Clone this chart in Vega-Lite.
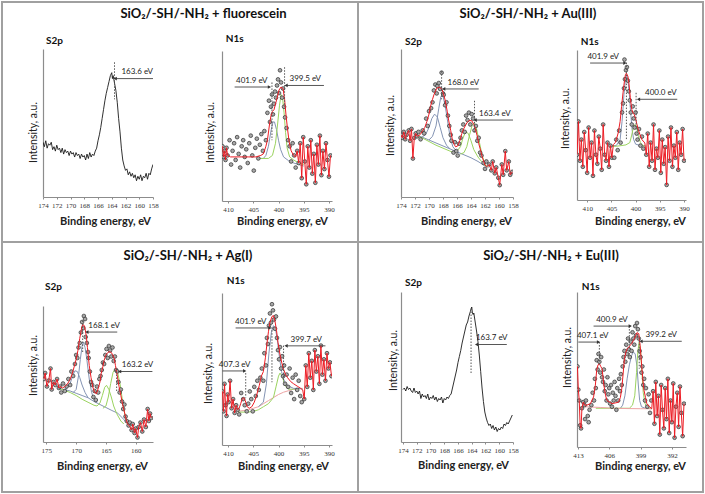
{
"$schema":"https://vega.github.io/schema/vega-lite/v6.json",
"padding":{"left":1,"top":1,"right":0,"bottom":0},
"background":"white",
"bounds":"flush",
"spacing":0,
"columns":13,
"config":{
 "view":{"stroke":null},
 "axis":{"grid":false,"domainColor":"#8c8c8c","domainWidth":1.2,"tickColor":"#8c8c8c","labelFont":"Liberation Serif","labelFontSize":7,"labelColor":"#333","titleFont":"Lato","titleColor":"#222"},
 "axisX":{"tickSize":2,"labelPadding":2,"labelFlush":false,"labelOverlap":false,"titleFontWeight":"bold","titleFontSize":11,"titleBaseline":"middle"},
 "axisY":{"labels":false,"ticks":false,"titleFontWeight":"normal","titleFontSize":10.5,"titleBaseline":"middle"},
 "title":{"font":"Lato","fontWeight":"bold","color":"#111","baseline":"alphabetic","fontSize":10}
},
"datasets":{
"p1":[
{"s":"raw","x":174,"y":37},{"s":"raw","x":173.8,"y":34},{"s":"raw","x":173.6,"y":38},{"s":"raw","x":173.4,"y":33},{"s":"raw","x":173.2,"y":36},{"s":"raw","x":173,"y":35},{"s":"raw","x":172.8,"y":37},{"s":"raw","x":172.6,"y":32},{"s":"raw","x":172.4,"y":34},{"s":"raw","x":172.2,"y":31},{"s":"raw","x":172,"y":35},{"s":"raw","x":171.8,"y":32},{"s":"raw","x":171.6,"y":33},{"s":"raw","x":171.4,"y":30},{"s":"raw","x":171.2,"y":33},{"s":"raw","x":171,"y":29},{"s":"raw","x":170.8,"y":32},{"s":"raw","x":170.6,"y":30},{"s":"raw","x":170.4,"y":31},{"s":"raw","x":170.2,"y":28},{"s":"raw","x":170,"y":31},{"s":"raw","x":169.8,"y":29},{"s":"raw","x":169.6,"y":30},{"s":"raw","x":169.4,"y":27},{"s":"raw","x":169.2,"y":30},{"s":"raw","x":169,"y":28},{"s":"raw","x":168.8,"y":29},{"s":"raw","x":168.6,"y":26},{"s":"raw","x":168.4,"y":29},{"s":"raw","x":168.2,"y":27},{"s":"raw","x":168,"y":28},{"s":"raw","x":167.8,"y":25},{"s":"raw","x":167.6,"y":29},{"s":"raw","x":167.4,"y":26},{"s":"raw","x":167.2,"y":30},{"s":"raw","x":167,"y":27},{"s":"raw","x":166.8,"y":29},{"s":"raw","x":166.6,"y":28},{"s":"raw","x":166.4,"y":31},{"s":"raw","x":166.2,"y":33},{"s":"raw","x":166,"y":38},{"s":"raw","x":165.8,"y":42},{"s":"raw","x":165.6,"y":47},{"s":"raw","x":165.4,"y":53},{"s":"raw","x":165.2,"y":59},{"s":"raw","x":165,"y":65},{"s":"raw","x":164.8,"y":70},{"s":"raw","x":164.6,"y":74},{"s":"raw","x":164.4,"y":78},{"s":"raw","x":164.2,"y":82},{"s":"raw","x":164,"y":84},{"s":"raw","x":163.9,"y":80},{"s":"raw","x":163.8,"y":82},{"s":"raw","x":163.6,"y":77},{"s":"raw","x":163.4,"y":72},{"s":"raw","x":163.2,"y":64},{"s":"raw","x":163,"y":53},{"s":"raw","x":162.8,"y":44},{"s":"raw","x":162.6,"y":33},{"s":"raw","x":162.4,"y":25},{"s":"raw","x":162.2,"y":21},{"s":"raw","x":162,"y":18},{"s":"raw","x":161.8,"y":19},{"s":"raw","x":161.6,"y":15},{"s":"raw","x":161.4,"y":17},{"s":"raw","x":161.2,"y":14},{"s":"raw","x":161,"y":16},{"s":"raw","x":160.8,"y":13},{"s":"raw","x":160.6,"y":15},{"s":"raw","x":160.4,"y":11},{"s":"raw","x":160.2,"y":14},{"s":"raw","x":160,"y":12},{"s":"raw","x":159.8,"y":15},{"s":"raw","x":159.6,"y":11},{"s":"raw","x":159.4,"y":14},{"s":"raw","x":159.2,"y":13},{"s":"raw","x":159,"y":16},{"s":"raw","x":158.8,"y":12},{"s":"raw","x":158.6,"y":16},{"s":"raw","x":158.4,"y":15},{"s":"raw","x":158.2,"y":19},{"s":"raw","x":158,"y":22},
{"s":"v","x":163.6,"y":91,"y2":66},{"s":"h","x":163.5,"x2":158,"y":80,"d":"l"},{"s":"t","x":160.3,"y":81.5,"label":"163.6 eV"}
],
"p2":[
{"s":"pt","x":411.1,"y":36},{"s":"pt","x":410.9,"y":29},{"s":"pt","x":410.7,"y":33},{"s":"pt","x":410.5,"y":27},{"s":"pt","x":410.3,"y":35},{"s":"pt","x":410.1,"y":30},
{"s":"pt","x":409.7,"y":40},{"s":"pt","x":409.4,"y":24},{"s":"pt","x":409.1,"y":33},{"s":"pt","x":408.8,"y":38},{"s":"pt","x":408.5,"y":27},{"s":"pt","x":408.2,"y":42},{"s":"pt","x":407.9,"y":31},{"s":"pt","x":407.6,"y":22},{"s":"pt","x":407.3,"y":36},{"s":"pt","x":407,"y":40},{"s":"pt","x":406.7,"y":29},{"s":"pt","x":406.4,"y":34},{"s":"pt","x":406.1,"y":25},{"s":"pt","x":405.8,"y":38},{"s":"pt","x":405.5,"y":43},{"s":"pt","x":405.2,"y":30},{"s":"pt","x":404.9,"y":20},{"s":"pt","x":404.6,"y":35},{"s":"pt","x":404.3,"y":41},{"s":"pt","x":404,"y":28},{"s":"pt","x":403.7,"y":37},{"s":"pt","x":403.4,"y":44},{"s":"pt","x":403.1,"y":33},{"s":"pt","x":402.8,"y":46},{"s":"pt","x":402.5,"y":40},{"s":"pt","x":402.2,"y":58},{"s":"pt","x":401.9,"y":66},{"s":"pt","x":401.7,"y":52},{"s":"pt","x":401.5,"y":62},{"s":"pt","x":401.3,"y":70},{"s":"pt","x":401.1,"y":57},{"s":"pt","x":400.9,"y":64},{"s":"pt","x":400.7,"y":72},{"s":"pt","x":400.5,"y":68},{"s":"pt","x":400.3,"y":76},{"s":"pt","x":400.1,"y":80},{"s":"pt","x":399.9,"y":71},{"s":"pt","x":399.7,"y":86},{"s":"pt","x":399.5,"y":78},{"s":"pt","x":399.3,"y":68},{"s":"pt","x":399.1,"y":74},{"s":"pt","x":398.9,"y":62},{"s":"pt","x":398.7,"y":55},{"s":"pt","x":398.4,"y":48},{"s":"pt","x":398.1,"y":40},{"s":"pt","x":397.8,"y":36},{"s":"pt","x":397.5,"y":26},{"s":"pt","x":397.2,"y":38},{"s":"pt","x":396.9,"y":30},{"s":"pt","x":396.6,"y":22},
{"s":"pt","x":396.3,"y":33},{"s":"pt","x":396,"y":25},{"s":"pt","x":395.7,"y":38},{"s":"pt","x":395.4,"y":15},{"s":"pt","x":395.1,"y":42},{"s":"pt","x":394.8,"y":26},{"s":"pt","x":394.5,"y":11},{"s":"pt","x":394.2,"y":36},{"s":"pt","x":393.9,"y":22},{"s":"pt","x":393.6,"y":40},{"s":"pt","x":393.3,"y":18},{"s":"pt","x":393,"y":31},{"s":"pt","x":392.7,"y":12},{"s":"pt","x":392.4,"y":37},{"s":"pt","x":392.1,"y":24},{"s":"pt","x":391.8,"y":43},{"s":"pt","x":391.5,"y":17},{"s":"pt","x":391.2,"y":33},{"s":"pt","x":390.9,"y":21},{"s":"pt","x":390.6,"y":38},{"s":"pt","x":390.3,"y":27},{"s":"pt","x":390,"y":16},{"s":"pt","x":389.7,"y":30},
{"s":"fit","x":411.1,"y":36},{"s":"fit","x":410.9,"y":29},{"s":"fit","x":410.7,"y":33},{"s":"fit","x":410.5,"y":27},{"s":"fit","x":410.3,"y":35},{"s":"fit","x":410.1,"y":30},
{"s":"fit","x":409.5,"y":29},{"s":"fit","x":408,"y":29},{"s":"fit","x":406,"y":29},{"s":"fit","x":404.5,"y":29},{"s":"fit","x":403.5,"y":30},{"s":"fit","x":403,"y":31},{"s":"fit","x":402.5,"y":36},{"s":"fit","x":402.2,"y":40},{"s":"fit","x":401.8,"y":50},{"s":"fit","x":401.5,"y":56},{"s":"fit","x":401.2,"y":59},{"s":"fit","x":400.9,"y":60},{"s":"fit","x":400.5,"y":65},{"s":"fit","x":400.2,"y":69},{"s":"fit","x":399.9,"y":73},{"s":"fit","x":399.5,"y":75},{"s":"fit","x":399.1,"y":74},{"s":"fit","x":398.8,"y":67},{"s":"fit","x":398.5,"y":56},{"s":"fit","x":398.2,"y":47},{"s":"fit","x":397.9,"y":39},{"s":"fit","x":397.5,"y":33},{"s":"fit","x":397,"y":30},{"s":"fit","x":396.6,"y":29},
{"s":"fit","x":396.3,"y":33},{"s":"fit","x":396,"y":25},{"s":"fit","x":395.7,"y":38},{"s":"fit","x":395.4,"y":15},{"s":"fit","x":395.1,"y":42},{"s":"fit","x":394.8,"y":26},{"s":"fit","x":394.5,"y":11},{"s":"fit","x":394.2,"y":36},{"s":"fit","x":393.9,"y":22},{"s":"fit","x":393.6,"y":40},{"s":"fit","x":393.3,"y":18},{"s":"fit","x":393,"y":31},{"s":"fit","x":392.7,"y":12},{"s":"fit","x":392.4,"y":37},{"s":"fit","x":392.1,"y":24},{"s":"fit","x":391.8,"y":43},{"s":"fit","x":391.5,"y":17},{"s":"fit","x":391.2,"y":33},{"s":"fit","x":390.9,"y":21},{"s":"fit","x":390.6,"y":38},{"s":"fit","x":390.3,"y":27},{"s":"fit","x":390,"y":16},{"s":"fit","x":389.7,"y":30},
{"s":"b1","x":404,"y":28},{"s":"b1","x":403,"y":28},{"s":"b1","x":402.5,"y":30},{"s":"b1","x":402,"y":36},{"s":"b1","x":401.5,"y":46},{"s":"b1","x":401.1,"y":52},{"s":"b1","x":400.8,"y":52},{"s":"b1","x":400.4,"y":47},{"s":"b1","x":400,"y":40},{"s":"b1","x":399.6,"y":34},{"s":"b1","x":399,"y":29},{"s":"b1","x":398,"y":26.5},{"s":"b1","x":397,"y":25},{"s":"b1","x":396,"y":24},{"s":"b1","x":395,"y":23},
{"s":"g1","x":404,"y":28},{"s":"g1","x":402,"y":28},{"s":"g1","x":401.2,"y":30},{"s":"g1","x":400.6,"y":38},{"s":"g1","x":400.2,"y":50},{"s":"g1","x":399.8,"y":63},{"s":"g1","x":399.5,"y":70},{"s":"g1","x":399.2,"y":68},{"s":"g1","x":398.9,"y":58},{"s":"g1","x":398.6,"y":45},{"s":"g1","x":398.3,"y":35},{"s":"g1","x":397.8,"y":29},{"s":"g1","x":397,"y":27},{"s":"g1","x":396,"y":25},{"s":"g1","x":395,"y":24},
{"s":"v","x":401.3,"y":78,"y2":40},{"s":"v","x":398.8,"y":88,"y2":62},{"s":"h","x":401.8,"x2":408.7,"y":75,"d":"r"},{"s":"h","x":398.5,"x2":391,"y":76,"d":"l"},{"s":"t","x":405.3,"y":76.5,"label":"401.9 eV"},{"s":"t","x":394.7,"y":77.5,"label":"399.5 eV"}
],
"p3":[
{"s":"pt","x":174,"y":42},{"s":"pt","x":173.8,"y":40},{"s":"pt","x":173.6,"y":44},{"s":"pt","x":173.4,"y":39},{"s":"pt","x":173.2,"y":42},{"s":"pt","x":172.9,"y":45},{"s":"pt","x":172.7,"y":38},{"s":"pt","x":172.5,"y":46},{"s":"pt","x":172.3,"y":26},{"s":"pt","x":172.1,"y":40},{"s":"pt","x":171.9,"y":43},{"s":"pt","x":171.7,"y":41},
{"s":"pt","x":171.5,"y":44},{"s":"pt","x":171.2,"y":39},{"s":"pt","x":170.9,"y":45},{"s":"pt","x":170.7,"y":43},{"s":"pt","x":170.4,"y":53},{"s":"pt","x":170.2,"y":48},{"s":"pt","x":170,"y":58},{"s":"pt","x":169.7,"y":60},{"s":"pt","x":169.5,"y":64},{"s":"pt","x":169.3,"y":72},{"s":"pt","x":169.1,"y":76},{"s":"pt","x":168.9,"y":70},{"s":"pt","x":168.8,"y":75},{"s":"pt","x":168.6,"y":77},{"s":"pt","x":168.4,"y":73},{"s":"pt","x":168.2,"y":84},{"s":"pt","x":168,"y":70},{"s":"pt","x":167.9,"y":69},{"s":"pt","x":167.7,"y":62},{"s":"pt","x":167.5,"y":64},{"s":"pt","x":167.3,"y":55},{"s":"pt","x":167.1,"y":48},{"s":"pt","x":166.9,"y":42},{"s":"pt","x":166.8,"y":38},{"s":"pt","x":166.5,"y":30},{"s":"pt","x":166.3,"y":37},{"s":"pt","x":166.1,"y":31},{"s":"pt","x":165.9,"y":28},{"s":"pt","x":165.7,"y":36},{"s":"pt","x":165.5,"y":40},{"s":"pt","x":165.3,"y":45},{"s":"pt","x":165.1,"y":49},{"s":"pt","x":164.9,"y":44},{"s":"pt","x":164.7,"y":55},{"s":"pt","x":164.5,"y":52},{"s":"pt","x":164.3,"y":57},{"s":"pt","x":164.1,"y":49},{"s":"pt","x":163.9,"y":56},{"s":"pt","x":163.7,"y":53},{"s":"pt","x":163.5,"y":45},{"s":"pt","x":163.3,"y":48},{"s":"pt","x":163.1,"y":38},{"s":"pt","x":162.9,"y":40},{"s":"pt","x":162.7,"y":30},{"s":"pt","x":162.5,"y":28},{"s":"pt","x":162.2,"y":23},{"s":"pt","x":162,"y":19},{"s":"pt","x":161.8,"y":24},
{"s":"pt","x":161.4,"y":22},{"s":"pt","x":161.1,"y":18},{"s":"pt","x":160.9,"y":24},{"s":"pt","x":160.6,"y":16},{"s":"pt","x":160.4,"y":20},{"s":"pt","x":160.1,"y":13},{"s":"pt","x":159.9,"y":8},{"s":"pt","x":159.6,"y":22},{"s":"pt","x":159.4,"y":15},{"s":"pt","x":159.1,"y":31},{"s":"pt","x":158.9,"y":18},{"s":"pt","x":158.6,"y":24},{"s":"pt","x":158.4,"y":15},{"s":"pt","x":158.1,"y":17},
{"s":"fit","x":174,"y":42},{"s":"fit","x":173.8,"y":40},{"s":"fit","x":173.6,"y":44},{"s":"fit","x":173.4,"y":39},{"s":"fit","x":173.2,"y":42},{"s":"fit","x":172.9,"y":45},{"s":"fit","x":172.7,"y":38},{"s":"fit","x":172.5,"y":46},{"s":"fit","x":172.3,"y":26},{"s":"fit","x":172.1,"y":40},{"s":"fit","x":171.9,"y":43},{"s":"fit","x":171.7,"y":41},
{"s":"fit","x":171.3,"y":42},{"s":"fit","x":171,"y":44},{"s":"fit","x":170.6,"y":47},{"s":"fit","x":170.3,"y":51},{"s":"fit","x":170,"y":56},{"s":"fit","x":169.8,"y":61},{"s":"fit","x":169.5,"y":66},{"s":"fit","x":169.3,"y":69},{"s":"fit","x":168.9,"y":73.5},{"s":"fit","x":168.5,"y":74.2},{"s":"fit","x":168.1,"y":72.4},{"s":"fit","x":167.7,"y":65.6},{"s":"fit","x":167.4,"y":58},{"s":"fit","x":167.2,"y":52},{"s":"fit","x":166.9,"y":45},{"s":"fit","x":166.7,"y":39.6},{"s":"fit","x":166.4,"y":35.5},{"s":"fit","x":166.2,"y":33.9},{"s":"fit","x":165.9,"y":34.5},{"s":"fit","x":165.6,"y":38},{"s":"fit","x":165.3,"y":43},{"s":"fit","x":165,"y":46.5},{"s":"fit","x":164.6,"y":50},{"s":"fit","x":164.3,"y":51.6},{"s":"fit","x":163.9,"y":51.6},{"s":"fit","x":163.6,"y":49},{"s":"fit","x":163.4,"y":46.4},{"s":"fit","x":163.1,"y":41},{"s":"fit","x":162.9,"y":36.2},{"s":"fit","x":162.6,"y":31},{"s":"fit","x":162.4,"y":27.1},{"s":"fit","x":162,"y":21.5},{"s":"fit","x":161.7,"y":20.5},
{"s":"fit","x":161.4,"y":22},{"s":"fit","x":161.1,"y":18},{"s":"fit","x":160.9,"y":24},{"s":"fit","x":160.6,"y":16},{"s":"fit","x":160.4,"y":20},{"s":"fit","x":160.1,"y":13},{"s":"fit","x":159.9,"y":8},{"s":"fit","x":159.6,"y":22},{"s":"fit","x":159.4,"y":15},{"s":"fit","x":159.1,"y":31},{"s":"fit","x":158.9,"y":18},{"s":"fit","x":158.6,"y":24},{"s":"fit","x":158.4,"y":15},{"s":"fit","x":158.1,"y":17},
{"s":"b0","x":172,"y":42},{"s":"b0","x":171,"y":40.5},{"s":"b0","x":170,"y":38.5},{"s":"b0","x":169,"y":36.5},{"s":"b0","x":168,"y":34.5},{"s":"b0","x":167,"y":32.5},{"s":"b0","x":166,"y":30.5},{"s":"b0","x":165,"y":28.5},{"s":"b0","x":164,"y":26.5},{"s":"b0","x":163,"y":24},{"s":"b0","x":162,"y":21},{"s":"b0","x":161.5,"y":20},
{"s":"b1","x":171,"y":40.5},{"s":"b1","x":170.5,"y":42},{"s":"b1","x":170,"y":47},{"s":"b1","x":169.6,"y":53},{"s":"b1","x":169.2,"y":56},{"s":"b1","x":168.8,"y":54},{"s":"b1","x":168.4,"y":47},{"s":"b1","x":168,"y":40},{"s":"b1","x":167.5,"y":35},{"s":"b1","x":167,"y":32.5},
{"s":"b2","x":170,"y":38.5},{"s":"b2","x":169.5,"y":41},{"s":"b2","x":169,"y":48},{"s":"b2","x":168.6,"y":60},{"s":"b2","x":168.3,"y":68},{"s":"b2","x":168,"y":68},{"s":"b2","x":167.7,"y":62},{"s":"b2","x":167.3,"y":50},{"s":"b2","x":167,"y":41},{"s":"b2","x":166.6,"y":34},{"s":"b2","x":166,"y":30.5},
{"s":"g0","x":172,"y":42},{"s":"g0","x":171,"y":40},{"s":"g0","x":170,"y":37.5},{"s":"g0","x":169,"y":35},{"s":"g0","x":168,"y":33},{"s":"g0","x":167,"y":31},{"s":"g0","x":166.5,"y":30},
{"s":"g1","x":166.5,"y":30},{"s":"g1","x":166,"y":31},{"s":"g1","x":165.5,"y":34},{"s":"g1","x":165.2,"y":39},{"s":"g1","x":164.8,"y":44},{"s":"g1","x":164.4,"y":43},{"s":"g1","x":164,"y":38},{"s":"g1","x":163.6,"y":32},{"s":"g1","x":163,"y":27},{"s":"g1","x":162.5,"y":24},{"s":"g1","x":162,"y":21},
{"s":"g2","x":165.5,"y":29},{"s":"g2","x":165,"y":30},{"s":"g2","x":164.6,"y":34},{"s":"g2","x":164.2,"y":42},{"s":"g2","x":163.8,"y":49},{"s":"g2","x":163.5,"y":50},{"s":"g2","x":163.2,"y":46},{"s":"g2","x":162.8,"y":37},{"s":"g2","x":162.4,"y":28},{"s":"g2","x":162,"y":22},{"s":"g2","x":161.6,"y":20},
{"s":"v","x":168.2,"y":85,"y2":66},{"s":"v","x":163.5,"y":65,"y2":44},{"s":"h","x":167.9,"x2":162.9,"y":73,"d":"l"},{"s":"h","x":163.4,"x2":158,"y":52,"d":"l"},{"s":"t","x":165.1,"y":74.5,"label":"168.0 eV"},{"s":"t","x":160.6,"y":53.5,"label":"163.4 eV"}
],
"p4":[
{"s":"pt","x":412.1,"y":30},{"s":"pt","x":411.8,"y":52},{"s":"pt","x":411.5,"y":26},{"s":"pt","x":411.2,"y":40},{"s":"pt","x":410.9,"y":22},{"s":"pt","x":410.6,"y":45},{"s":"pt","x":410.3,"y":33},{"s":"pt","x":410,"y":18},{"s":"pt","x":409.7,"y":48},{"s":"pt","x":409.4,"y":28},{"s":"pt","x":409.1,"y":38},{"s":"pt","x":408.8,"y":16},{"s":"pt","x":408.5,"y":46},{"s":"pt","x":408.2,"y":30},{"s":"pt","x":407.9,"y":24},{"s":"pt","x":407.6,"y":42},{"s":"pt","x":407.3,"y":34},{"s":"pt","x":407,"y":20},{"s":"pt","x":406.7,"y":50},{"s":"pt","x":406.4,"y":30},{"s":"pt","x":406.1,"y":26},{"s":"pt","x":405.8,"y":38},{"s":"pt","x":405.5,"y":22},{"s":"pt","x":405.2,"y":36},{"s":"pt","x":404.9,"y":28},
{"s":"pt","x":404.4,"y":28},{"s":"pt","x":404,"y":40},{"s":"pt","x":403.7,"y":33},{"s":"pt","x":403.4,"y":46},{"s":"pt","x":403.1,"y":38},{"s":"pt","x":402.8,"y":58},{"s":"pt","x":402.6,"y":64},{"s":"pt","x":402.4,"y":74},{"s":"pt","x":402.3,"y":93},{"s":"pt","x":402.2,"y":80},{"s":"pt","x":402,"y":86},{"s":"pt","x":401.8,"y":88},{"s":"pt","x":401.6,"y":79},{"s":"pt","x":401.4,"y":72},{"s":"pt","x":401.2,"y":66},{"s":"pt","x":401,"y":58},{"s":"pt","x":400.8,"y":50},{"s":"pt","x":400.6,"y":62},{"s":"pt","x":400.4,"y":54},{"s":"pt","x":400.2,"y":48},{"s":"pt","x":400,"y":58},{"s":"pt","x":399.8,"y":44},{"s":"pt","x":399.6,"y":40},{"s":"pt","x":399.3,"y":47},{"s":"pt","x":399,"y":36},{"s":"pt","x":398.7,"y":42},{"s":"pt","x":398.4,"y":34},
{"s":"pt","x":397.8,"y":30},{"s":"pt","x":397.5,"y":44},{"s":"pt","x":397.2,"y":22},{"s":"pt","x":396.9,"y":38},{"s":"pt","x":396.6,"y":26},{"s":"pt","x":396.3,"y":50},{"s":"pt","x":396,"y":20},{"s":"pt","x":395.7,"y":34},{"s":"pt","x":395.4,"y":28},{"s":"pt","x":395.1,"y":46},{"s":"pt","x":394.8,"y":18},{"s":"pt","x":394.5,"y":40},{"s":"pt","x":394.2,"y":24},{"s":"pt","x":393.9,"y":35},{"s":"pt","x":393.6,"y":10},{"s":"pt","x":393.3,"y":42},{"s":"pt","x":393,"y":26},{"s":"pt","x":392.7,"y":48},{"s":"pt","x":392.4,"y":22},{"s":"pt","x":392.1,"y":36},{"s":"pt","x":391.8,"y":28},{"s":"pt","x":391.5,"y":45},{"s":"pt","x":391.2,"y":20},{"s":"pt","x":390.9,"y":38},{"s":"pt","x":390.6,"y":30},{"s":"pt","x":390.3,"y":47},{"s":"pt","x":390,"y":26},
{"s":"fit","x":412.1,"y":30},{"s":"fit","x":411.8,"y":52},{"s":"fit","x":411.5,"y":26},{"s":"fit","x":411.2,"y":40},{"s":"fit","x":410.9,"y":22},{"s":"fit","x":410.6,"y":45},{"s":"fit","x":410.3,"y":33},{"s":"fit","x":410,"y":18},{"s":"fit","x":409.7,"y":48},{"s":"fit","x":409.4,"y":28},{"s":"fit","x":409.1,"y":38},{"s":"fit","x":408.8,"y":16},{"s":"fit","x":408.5,"y":46},{"s":"fit","x":408.2,"y":30},{"s":"fit","x":407.9,"y":24},{"s":"fit","x":407.6,"y":42},{"s":"fit","x":407.3,"y":34},{"s":"fit","x":407,"y":20},{"s":"fit","x":406.7,"y":50},{"s":"fit","x":406.4,"y":30},{"s":"fit","x":406.1,"y":26},{"s":"fit","x":405.8,"y":38},{"s":"fit","x":405.5,"y":22},{"s":"fit","x":405.2,"y":36},{"s":"fit","x":404.9,"y":28},
{"s":"fit","x":404.6,"y":36.7},{"s":"fit","x":404.2,"y":38},{"s":"fit","x":403.9,"y":41},{"s":"fit","x":403.6,"y":44.4},{"s":"fit","x":403.2,"y":52},{"s":"fit","x":402.9,"y":62},{"s":"fit","x":402.6,"y":71},{"s":"fit","x":402.3,"y":79},{"s":"fit","x":402.1,"y":83},{"s":"fit","x":401.9,"y":84},{"s":"fit","x":401.6,"y":82},{"s":"fit","x":401.4,"y":78},{"s":"fit","x":401.1,"y":68},{"s":"fit","x":400.8,"y":60},{"s":"fit","x":400.5,"y":57.5},{"s":"fit","x":400.3,"y":56.7},{"s":"fit","x":400,"y":54},{"s":"fit","x":399.8,"y":51},{"s":"fit","x":399.4,"y":46},{"s":"fit","x":399.1,"y":43.3},{"s":"fit","x":398.7,"y":40},{"s":"fit","x":398.1,"y":37.8},
{"s":"fit","x":397.8,"y":30},{"s":"fit","x":397.5,"y":44},{"s":"fit","x":397.2,"y":22},{"s":"fit","x":396.9,"y":38},{"s":"fit","x":396.6,"y":26},{"s":"fit","x":396.3,"y":50},{"s":"fit","x":396,"y":20},{"s":"fit","x":395.7,"y":34},{"s":"fit","x":395.4,"y":28},{"s":"fit","x":395.1,"y":46},{"s":"fit","x":394.8,"y":18},{"s":"fit","x":394.5,"y":40},{"s":"fit","x":394.2,"y":24},{"s":"fit","x":393.9,"y":35},{"s":"fit","x":393.6,"y":10},{"s":"fit","x":393.3,"y":42},{"s":"fit","x":393,"y":26},{"s":"fit","x":392.7,"y":48},{"s":"fit","x":392.4,"y":22},{"s":"fit","x":392.1,"y":36},{"s":"fit","x":391.8,"y":28},{"s":"fit","x":391.5,"y":45},{"s":"fit","x":391.2,"y":20},{"s":"fit","x":390.9,"y":38},{"s":"fit","x":390.6,"y":30},{"s":"fit","x":390.3,"y":47},{"s":"fit","x":390,"y":26},
{"s":"b1","x":405,"y":36},{"s":"b1","x":404,"y":36},{"s":"b1","x":403.2,"y":40},{"s":"b1","x":402.8,"y":52},{"s":"b1","x":402.4,"y":70},{"s":"b1","x":402.1,"y":80},{"s":"b1","x":401.9,"y":83},{"s":"b1","x":401.6,"y":80},{"s":"b1","x":401.3,"y":70},{"s":"b1","x":401,"y":57},{"s":"b1","x":400.7,"y":46},{"s":"b1","x":400.4,"y":40},{"s":"b1","x":400,"y":37},{"s":"b1","x":399,"y":36},{"s":"b1","x":398,"y":36},
{"s":"g1","x":405,"y":35.6},{"s":"g1","x":404,"y":35.6},{"s":"g1","x":403,"y":36},{"s":"g1","x":402,"y":36.5},{"s":"g1","x":401.2,"y":38},{"s":"g1","x":400.8,"y":43},{"s":"g1","x":400.4,"y":49},{"s":"g1","x":400.1,"y":50},{"s":"g1","x":399.8,"y":48},{"s":"g1","x":399.4,"y":42},{"s":"g1","x":399,"y":38},{"s":"g1","x":398.5,"y":36},{"s":"g1","x":398,"y":35.6},
{"s":"v","x":401.9,"y":91,"y2":40},{"s":"v","x":399.9,"y":71,"y2":47},{"s":"h","x":402.2,"x2":409.4,"y":90.7,"d":"r"},{"s":"h","x":399.4,"x2":391.4,"y":66.7,"d":"l"},{"s":"t","x":406.7,"y":92.2,"label":"401.9 eV"},{"s":"t","x":394.8,"y":68.2,"label":"400.0 eV"}
],
"p5":[
{"s":"pt","x":175.4,"y":42},{"s":"pt","x":175.2,"y":46},{"s":"pt","x":174.9,"y":37},{"s":"pt","x":174.6,"y":41},{"s":"pt","x":174.3,"y":49},{"s":"pt","x":174.1,"y":35},{"s":"pt","x":173.8,"y":40},{"s":"pt","x":173.5,"y":38},{"s":"pt","x":173.2,"y":42},{"s":"pt","x":172.9,"y":36},{"s":"pt","x":172.7,"y":37},
{"s":"pt","x":172.5,"y":33},{"s":"pt","x":172.2,"y":39},{"s":"pt","x":171.9,"y":34},{"s":"pt","x":171.6,"y":37},{"s":"pt","x":171.3,"y":42},{"s":"pt","x":171,"y":38},{"s":"pt","x":170.8,"y":47},{"s":"pt","x":170.5,"y":44},{"s":"pt","x":170.2,"y":52},{"s":"pt","x":170,"y":58},{"s":"pt","x":169.8,"y":56},{"s":"pt","x":169.6,"y":63},{"s":"pt","x":169.4,"y":66},{"s":"pt","x":169.2,"y":73},{"s":"pt","x":169,"y":80},{"s":"pt","x":168.8,"y":76},{"s":"pt","x":168.7,"y":84},{"s":"pt","x":168.5,"y":82},{"s":"pt","x":168.4,"y":70},{"s":"pt","x":168.2,"y":66},{"s":"pt","x":168,"y":60},{"s":"pt","x":167.9,"y":56},{"s":"pt","x":167.7,"y":47},{"s":"pt","x":167.5,"y":40},{"s":"pt","x":167.3,"y":38},{"s":"pt","x":167.1,"y":30},{"s":"pt","x":166.9,"y":34},{"s":"pt","x":166.7,"y":28},{"s":"pt","x":166.5,"y":37},{"s":"pt","x":166.3,"y":33},{"s":"pt","x":166.1,"y":42},{"s":"pt","x":165.9,"y":44},{"s":"pt","x":165.7,"y":48},{"s":"pt","x":165.5,"y":53},{"s":"pt","x":165.3,"y":52},{"s":"pt","x":165.1,"y":58},{"s":"pt","x":164.9,"y":62},{"s":"pt","x":164.7,"y":56},{"s":"pt","x":164.5,"y":64},{"s":"pt","x":164.3,"y":61},{"s":"pt","x":164.1,"y":57},{"s":"pt","x":163.9,"y":63},{"s":"pt","x":163.7,"y":54},{"s":"pt","x":163.5,"y":57},{"s":"pt","x":163.3,"y":48},{"s":"pt","x":163.1,"y":47},{"s":"pt","x":162.9,"y":40},{"s":"pt","x":162.7,"y":33},{"s":"pt","x":162.5,"y":35},{"s":"pt","x":162.3,"y":27},{"s":"pt","x":162.1,"y":22},{"s":"pt","x":161.9,"y":25},{"s":"pt","x":161.7,"y":17},{"s":"pt","x":161.5,"y":14},{"s":"pt","x":161.2,"y":11},{"s":"pt","x":161,"y":13},
{"s":"pt","x":160.7,"y":8},{"s":"pt","x":160.5,"y":12},{"s":"pt","x":160.2,"y":6},{"s":"pt","x":160,"y":9},{"s":"pt","x":159.7,"y":3},{"s":"pt","x":159.5,"y":10},{"s":"pt","x":159.2,"y":13},{"s":"pt","x":158.9,"y":7},{"s":"pt","x":158.6,"y":15},{"s":"pt","x":158.3,"y":10},{"s":"pt","x":158,"y":22},{"s":"pt","x":157.8,"y":14},{"s":"pt","x":157.6,"y":19},{"s":"pt","x":157.4,"y":16},
{"s":"fit","x":175.4,"y":42},{"s":"fit","x":175.2,"y":46},{"s":"fit","x":174.9,"y":37},{"s":"fit","x":174.6,"y":41},{"s":"fit","x":174.3,"y":49},{"s":"fit","x":174.1,"y":35},{"s":"fit","x":173.8,"y":40},{"s":"fit","x":173.5,"y":38},{"s":"fit","x":173.2,"y":42},{"s":"fit","x":172.9,"y":36},{"s":"fit","x":172.7,"y":37},
{"s":"fit","x":172.3,"y":36},{"s":"fit","x":171.9,"y":37},{"s":"fit","x":171.5,"y":38.5},{"s":"fit","x":171.1,"y":41},{"s":"fit","x":170.7,"y":45},{"s":"fit","x":170.3,"y":50.5},{"s":"fit","x":170,"y":55},{"s":"fit","x":169.7,"y":61},{"s":"fit","x":169.4,"y":69},{"s":"fit","x":169.1,"y":75.5},{"s":"fit","x":168.9,"y":78.4},{"s":"fit","x":168.6,"y":77.5},{"s":"fit","x":168.3,"y":71},{"s":"fit","x":168.1,"y":63},{"s":"fit","x":167.8,"y":51},{"s":"fit","x":167.5,"y":43},{"s":"fit","x":167.2,"y":36.7},{"s":"fit","x":166.9,"y":33},{"s":"fit","x":166.6,"y":32.2},{"s":"fit","x":166.3,"y":35.6},{"s":"fit","x":166,"y":40},{"s":"fit","x":165.8,"y":45.6},{"s":"fit","x":165.5,"y":50.5},{"s":"fit","x":165.3,"y":54.4},{"s":"fit","x":165,"y":58},{"s":"fit","x":164.7,"y":59.6},{"s":"fit","x":164.4,"y":60.2},{"s":"fit","x":164.2,"y":60},{"s":"fit","x":163.9,"y":58.5},{"s":"fit","x":163.6,"y":55.6},{"s":"fit","x":163.4,"y":51},{"s":"fit","x":163.1,"y":44.4},{"s":"fit","x":162.8,"y":37},{"s":"fit","x":162.5,"y":31.1},{"s":"fit","x":162.2,"y":25},{"s":"fit","x":161.9,"y":20},{"s":"fit","x":161.6,"y":15},{"s":"fit","x":161.4,"y":12.2},{"s":"fit","x":161,"y":10.5},
{"s":"fit","x":160.7,"y":8},{"s":"fit","x":160.5,"y":12},{"s":"fit","x":160.2,"y":6},{"s":"fit","x":160,"y":9},{"s":"fit","x":159.7,"y":3},{"s":"fit","x":159.5,"y":10},{"s":"fit","x":159.2,"y":13},{"s":"fit","x":158.9,"y":7},{"s":"fit","x":158.6,"y":15},{"s":"fit","x":158.3,"y":10},{"s":"fit","x":158,"y":22},{"s":"fit","x":157.8,"y":14},{"s":"fit","x":157.6,"y":19},{"s":"fit","x":157.4,"y":16},
{"s":"b0","x":172.8,"y":35.6},{"s":"b0","x":172,"y":35},{"s":"b0","x":171,"y":34},{"s":"b0","x":170,"y":32.5},{"s":"b0","x":169,"y":31},{"s":"b0","x":168,"y":29.5},{"s":"b0","x":167,"y":27},{"s":"b0","x":166,"y":25},{"s":"b0","x":165,"y":23},{"s":"b0","x":164,"y":21},{"s":"b0","x":163,"y":19.2},{"s":"b0","x":162,"y":15},{"s":"b0","x":161,"y":11},
{"s":"b1","x":172,"y":35},{"s":"b1","x":171.5,"y":36},{"s":"b1","x":171,"y":39},{"s":"b1","x":170.6,"y":44},{"s":"b1","x":170.2,"y":47.5},{"s":"b1","x":169.8,"y":47},{"s":"b1","x":169.4,"y":43},{"s":"b1","x":169,"y":38},{"s":"b1","x":168.5,"y":33},{"s":"b1","x":168,"y":29.5},
{"s":"b2","x":170.5,"y":33},{"s":"b2","x":170,"y":35},{"s":"b2","x":169.6,"y":44},{"s":"b2","x":169.3,"y":55},{"s":"b2","x":169,"y":64},{"s":"b2","x":168.8,"y":66.7},{"s":"b2","x":168.5,"y":63},{"s":"b2","x":168.2,"y":55},{"s":"b2","x":167.8,"y":42},{"s":"b2","x":167.4,"y":33},{"s":"b2","x":167,"y":28.5},{"s":"b2","x":166.5,"y":26},
{"s":"g0","x":172.8,"y":35.6},{"s":"g0","x":172,"y":34.5},{"s":"g0","x":171,"y":33},{"s":"g0","x":170,"y":31},{"s":"g0","x":169,"y":28.5},{"s":"g0","x":168,"y":26.5},{"s":"g0","x":167,"y":24.5},
{"s":"g1","x":167,"y":24.5},{"s":"g1","x":166.5,"y":24},{"s":"g1","x":166,"y":26},{"s":"g1","x":165.6,"y":31},{"s":"g1","x":165.2,"y":36.5},{"s":"g1","x":164.9,"y":37.8},{"s":"g1","x":164.5,"y":35},{"s":"g1","x":164.1,"y":30},{"s":"g1","x":163.7,"y":24},{"s":"g1","x":163.2,"y":19},{"s":"g1","x":162.5,"y":14},{"s":"g1","x":162,"y":12},
{"s":"g2","x":165.5,"y":22.5},{"s":"g2","x":165,"y":24},{"s":"g2","x":164.6,"y":30},{"s":"g2","x":164.2,"y":39},{"s":"g2","x":163.8,"y":46.5},{"s":"g2","x":163.4,"y":48.9},{"s":"g2","x":163,"y":46},{"s":"g2","x":162.6,"y":38},{"s":"g2","x":162.2,"y":27},{"s":"g2","x":161.8,"y":18},{"s":"g2","x":161.3,"y":12},{"s":"g2","x":161,"y":10.5},
{"s":"v","x":168.9,"y":81,"y2":60},{"s":"v","x":163.2,"y":49,"y2":33},{"s":"h","x":168.2,"x2":163.1,"y":73.3,"d":"l"},{"s":"h","x":162.7,"x2":157.2,"y":47,"d":"l"},{"s":"t","x":165.3,"y":74.8,"label":"168.1 eV"},{"s":"t","x":159.7,"y":48.5,"label":"163.2 eV"}
],
"p6":[
{"s":"pt","x":411.1,"y":35},{"s":"pt","x":410.9,"y":22},{"s":"pt","x":410.7,"y":40},{"s":"pt","x":410.5,"y":26},{"s":"pt","x":410.3,"y":19},{"s":"pt","x":410.1,"y":33},{"s":"pt","x":409.9,"y":28},{"s":"pt","x":409.6,"y":42},{"s":"pt","x":409.3,"y":24},{"s":"pt","x":409,"y":30},{"s":"pt","x":408.7,"y":21},{"s":"pt","x":408.4,"y":26},{"s":"pt","x":408.1,"y":23},
{"s":"pt","x":407.8,"y":20},{"s":"pt","x":407.4,"y":34},{"s":"pt","x":407,"y":30},{"s":"pt","x":406.7,"y":26},{"s":"pt","x":406.3,"y":22},{"s":"pt","x":406,"y":27},{"s":"pt","x":405.7,"y":35},{"s":"pt","x":405.4,"y":30},{"s":"pt","x":405.1,"y":22},{"s":"pt","x":404.8,"y":38},{"s":"pt","x":404.5,"y":32},{"s":"pt","x":404.2,"y":42},{"s":"pt","x":403.9,"y":36},{"s":"pt","x":403.6,"y":44},{"s":"pt","x":403.3,"y":50},{"s":"pt","x":403,"y":42},{"s":"pt","x":402.8,"y":60},{"s":"pt","x":402.5,"y":52},{"s":"pt","x":402.3,"y":70},{"s":"pt","x":402.1,"y":66},{"s":"pt","x":401.9,"y":78},{"s":"pt","x":401.7,"y":86},{"s":"pt","x":401.5,"y":80},{"s":"pt","x":401.3,"y":92},{"s":"pt","x":401.1,"y":88},{"s":"pt","x":400.9,"y":82},{"s":"pt","x":400.7,"y":76},{"s":"pt","x":400.5,"y":84},{"s":"pt","x":400.3,"y":70},{"s":"pt","x":400.1,"y":62},{"s":"pt","x":399.9,"y":56},{"s":"pt","x":399.7,"y":64},{"s":"pt","x":399.5,"y":50},{"s":"pt","x":399.3,"y":58},{"s":"pt","x":399.1,"y":45},{"s":"pt","x":398.9,"y":52},{"s":"pt","x":398.7,"y":40},{"s":"pt","x":398.4,"y":46},{"s":"pt","x":398.1,"y":38},{"s":"pt","x":397.8,"y":50},{"s":"pt","x":397.5,"y":34},{"s":"pt","x":397.2,"y":44},{"s":"pt","x":396.9,"y":30},{"s":"pt","x":396.6,"y":46},{"s":"pt","x":396.3,"y":36},{"s":"pt","x":396,"y":42},{"s":"pt","x":395.7,"y":32},{"s":"pt","x":395.4,"y":28},
{"s":"pt","x":394.9,"y":30},{"s":"pt","x":394.6,"y":52},{"s":"pt","x":394.3,"y":38},{"s":"pt","x":394,"y":60},{"s":"pt","x":393.7,"y":44},{"s":"pt","x":393.4,"y":55},{"s":"pt","x":393.1,"y":36},{"s":"pt","x":392.8,"y":62},{"s":"pt","x":392.5,"y":48},{"s":"pt","x":392.2,"y":58},{"s":"pt","x":391.9,"y":40},{"s":"pt","x":391.6,"y":65},{"s":"pt","x":391.3,"y":46},{"s":"pt","x":391,"y":56},{"s":"pt","x":390.7,"y":42},{"s":"pt","x":390.4,"y":60},{"s":"pt","x":390.1,"y":50},{"s":"pt","x":389.8,"y":54},{"s":"pt","x":389.5,"y":45},
{"s":"fit","x":411.1,"y":35},{"s":"fit","x":410.9,"y":22},{"s":"fit","x":410.7,"y":40},{"s":"fit","x":410.5,"y":26},{"s":"fit","x":410.3,"y":19},{"s":"fit","x":410.1,"y":33},{"s":"fit","x":409.9,"y":28},{"s":"fit","x":409.6,"y":42},{"s":"fit","x":409.3,"y":24},{"s":"fit","x":409,"y":30},{"s":"fit","x":408.7,"y":21},{"s":"fit","x":408.4,"y":26},{"s":"fit","x":408.1,"y":23},
{"s":"fit","x":407.8,"y":24},{"s":"fit","x":407.5,"y":27},{"s":"fit","x":407.2,"y":30},{"s":"fit","x":406.9,"y":31},{"s":"fit","x":406.6,"y":29},{"s":"fit","x":406.2,"y":25},{"s":"fit","x":405.8,"y":24},{"s":"fit","x":405.3,"y":25},{"s":"fit","x":404.8,"y":28},{"s":"fit","x":404.3,"y":33},{"s":"fit","x":403.8,"y":39},{"s":"fit","x":403.4,"y":45},{"s":"fit","x":403,"y":48},{"s":"fit","x":402.6,"y":57},{"s":"fit","x":402.3,"y":66},{"s":"fit","x":402,"y":74},{"s":"fit","x":401.7,"y":80},{"s":"fit","x":401.3,"y":84},{"s":"fit","x":401,"y":84.6},{"s":"fit","x":400.7,"y":81},{"s":"fit","x":400.4,"y":75},{"s":"fit","x":400.1,"y":67},{"s":"fit","x":399.7,"y":59},{"s":"fit","x":399.3,"y":53},{"s":"fit","x":399,"y":49.5},{"s":"fit","x":398.6,"y":46},{"s":"fit","x":398.2,"y":44},{"s":"fit","x":397.6,"y":41.5},{"s":"fit","x":397,"y":40},{"s":"fit","x":396.3,"y":38.5},{"s":"fit","x":395.6,"y":37},{"s":"fit","x":395.2,"y":36},
{"s":"fit","x":394.9,"y":30},{"s":"fit","x":394.6,"y":52},{"s":"fit","x":394.3,"y":38},{"s":"fit","x":394,"y":60},{"s":"fit","x":393.7,"y":44},{"s":"fit","x":393.4,"y":55},{"s":"fit","x":393.1,"y":36},{"s":"fit","x":392.8,"y":62},{"s":"fit","x":392.5,"y":48},{"s":"fit","x":392.2,"y":58},{"s":"fit","x":391.9,"y":40},{"s":"fit","x":391.6,"y":65},{"s":"fit","x":391.3,"y":46},{"s":"fit","x":391,"y":56},{"s":"fit","x":390.7,"y":42},{"s":"fit","x":390.4,"y":60},{"s":"fit","x":390.1,"y":50},{"s":"fit","x":389.8,"y":54},{"s":"fit","x":389.5,"y":45},
{"s":"p0","x":408,"y":22},{"s":"p0","x":407,"y":22.5},{"s":"p0","x":406,"y":23},{"s":"p0","x":405,"y":24},{"s":"p0","x":404,"y":25},{"s":"p0","x":403,"y":27},{"s":"p0","x":402,"y":29},{"s":"p0","x":401,"y":31},{"s":"p0","x":400,"y":33},{"s":"p0","x":399,"y":34.5},{"s":"p0","x":398,"y":35.5},{"s":"p0","x":397,"y":36.5},{"s":"p0","x":396,"y":37},{"s":"p0","x":395.2,"y":37},
{"s":"g1","x":408,"y":21.5},{"s":"g1","x":406,"y":21.5},{"s":"g1","x":405,"y":22},{"s":"g1","x":404,"y":23},{"s":"g1","x":403,"y":25},{"s":"g1","x":402,"y":27},{"s":"g1","x":401,"y":31},{"s":"g1","x":400.5,"y":38},{"s":"g1","x":400,"y":45},{"s":"g1","x":399.7,"y":47},{"s":"g1","x":399.3,"y":45},{"s":"g1","x":398.9,"y":41},{"s":"g1","x":398.5,"y":38},{"s":"g1","x":398,"y":36.5},{"s":"g1","x":397,"y":36.5},{"s":"g1","x":396,"y":37},
{"s":"b1","x":404,"y":25},{"s":"b1","x":403,"y":28},{"s":"b1","x":402.4,"y":40},{"s":"b1","x":401.9,"y":60},{"s":"b1","x":401.4,"y":74},{"s":"b1","x":401,"y":78},{"s":"b1","x":400.6,"y":76},{"s":"b1","x":400.2,"y":68},{"s":"b1","x":399.8,"y":57},{"s":"b1","x":399.4,"y":48},{"s":"b1","x":399,"y":43},{"s":"b1","x":398.5,"y":40},{"s":"b1","x":398,"y":38.5},{"s":"b1","x":397,"y":37},{"s":"b1","x":396,"y":37},{"s":"b1","x":395.2,"y":36.5},
{"s":"v","x":401.3,"y":77,"y2":41},{"s":"v","x":399,"y":65,"y2":41},{"s":"v","x":406.5,"y":47,"y2":31},{"s":"h","x":401.7,"x2":408.5,"y":76.5,"d":"r"},{"s":"h","x":398.5,"x2":390.7,"y":64.8,"d":"l"},{"s":"h","x":406.7,"x2":411.1,"y":48.4,"d":"r"},{"s":"t","x":405.5,"y":78,"label":"401.9 eV"},{"s":"t","x":394.5,"y":66.3,"label":"399.7 eV"},{"s":"t","x":408.7,"y":49.9,"label":"407.3 eV"}
],
"p7":[
{"s":"raw","x":174,"y":35},{"s":"raw","x":173.8,"y":36},{"s":"raw","x":173.6,"y":34},{"s":"raw","x":173.4,"y":37},{"s":"raw","x":173.2,"y":35},{"s":"raw","x":173,"y":36},{"s":"raw","x":172.8,"y":34},{"s":"raw","x":172.6,"y":33},{"s":"raw","x":172.4,"y":36},{"s":"raw","x":172.2,"y":33},{"s":"raw","x":172,"y":34},{"s":"raw","x":171.8,"y":32},{"s":"raw","x":171.6,"y":34},{"s":"raw","x":171.4,"y":29},{"s":"raw","x":171.2,"y":32},{"s":"raw","x":171,"y":30},{"s":"raw","x":170.8,"y":31},{"s":"raw","x":170.6,"y":29},{"s":"raw","x":170.4,"y":32},{"s":"raw","x":170.2,"y":28},{"s":"raw","x":170,"y":30},{"s":"raw","x":169.8,"y":29},{"s":"raw","x":169.6,"y":31},{"s":"raw","x":169.4,"y":28},{"s":"raw","x":169.2,"y":30},{"s":"raw","x":169,"y":27},{"s":"raw","x":168.8,"y":29},{"s":"raw","x":168.6,"y":28},{"s":"raw","x":168.4,"y":30},{"s":"raw","x":168.2,"y":26},{"s":"raw","x":168,"y":29},{"s":"raw","x":167.8,"y":28},{"s":"raw","x":167.6,"y":30},{"s":"raw","x":167.4,"y":29},{"s":"raw","x":167.2,"y":31},{"s":"raw","x":167,"y":32},{"s":"raw","x":166.8,"y":36},{"s":"raw","x":166.6,"y":40},{"s":"raw","x":166.4,"y":44},{"s":"raw","x":166.2,"y":48},{"s":"raw","x":166,"y":53},{"s":"raw","x":165.8,"y":57},{"s":"raw","x":165.6,"y":61},{"s":"raw","x":165.4,"y":66},{"s":"raw","x":165.2,"y":70},{"s":"raw","x":165,"y":74},{"s":"raw","x":164.8,"y":78},{"s":"raw","x":164.6,"y":80},{"s":"raw","x":164.4,"y":84},{"s":"raw","x":164.2,"y":87},{"s":"raw","x":164,"y":90},{"s":"raw","x":163.9,"y":86},{"s":"raw","x":163.8,"y":85},{"s":"raw","x":163.7,"y":86},{"s":"raw","x":163.5,"y":80},{"s":"raw","x":163.3,"y":74},{"s":"raw","x":163.1,"y":67},{"s":"raw","x":162.9,"y":58},{"s":"raw","x":162.7,"y":47},{"s":"raw","x":162.5,"y":36},{"s":"raw","x":162.3,"y":27},{"s":"raw","x":162.1,"y":20},{"s":"raw","x":161.9,"y":16},{"s":"raw","x":161.7,"y":13},{"s":"raw","x":161.5,"y":11},{"s":"raw","x":161.3,"y":12},{"s":"raw","x":161.1,"y":9},{"s":"raw","x":160.9,"y":11},{"s":"raw","x":160.7,"y":8},{"s":"raw","x":160.5,"y":10},{"s":"raw","x":160.3,"y":7},{"s":"raw","x":160.1,"y":9},{"s":"raw","x":159.9,"y":8},{"s":"raw","x":159.7,"y":10},{"s":"raw","x":159.5,"y":9},{"s":"raw","x":159.3,"y":12},{"s":"raw","x":159.1,"y":11},{"s":"raw","x":158.9,"y":13},{"s":"raw","x":158.7,"y":12},{"s":"raw","x":158.5,"y":14},{"s":"raw","x":158.3,"y":16},{"s":"raw","x":158.1,"y":18},
{"s":"v","x":164.1,"y":89,"y2":45},{"s":"h","x":163.3,"x2":158.9,"y":65,"d":"l"},{"s":"t","x":161.1,"y":66.5,"label":"163.7 eV"}
],
"p8":[
{"s":"pt","x":413.1,"y":52},{"s":"pt","x":412.9,"y":37},{"s":"pt","x":412.7,"y":30},{"s":"pt","x":412.5,"y":14},{"s":"pt","x":412.3,"y":12},{"s":"pt","x":412.1,"y":25},{"s":"pt","x":411.8,"y":29},{"s":"pt","x":411.5,"y":27},
{"s":"pt","x":411.4,"y":18},{"s":"pt","x":411.2,"y":30},{"s":"pt","x":410.8,"y":20},{"s":"pt","x":410.6,"y":16},{"s":"pt","x":410.4,"y":24},{"s":"pt","x":410,"y":27},{"s":"pt","x":409.7,"y":35},{"s":"pt","x":409.4,"y":30},{"s":"pt","x":409.2,"y":44},{"s":"pt","x":409,"y":38},{"s":"pt","x":408.8,"y":56},{"s":"pt","x":408.6,"y":50},{"s":"pt","x":408.4,"y":60},{"s":"pt","x":408.2,"y":55},{"s":"pt","x":408,"y":48},{"s":"pt","x":407.8,"y":58},{"s":"pt","x":407.6,"y":45},{"s":"pt","x":407.4,"y":42},{"s":"pt","x":407.2,"y":50},{"s":"pt","x":407,"y":36},{"s":"pt","x":406.8,"y":40},{"s":"pt","x":406.6,"y":30},{"s":"pt","x":406.4,"y":45},{"s":"pt","x":406.2,"y":34},{"s":"pt","x":406,"y":38},{"s":"pt","x":405.8,"y":28},{"s":"pt","x":405.6,"y":40},{"s":"pt","x":405.4,"y":26},{"s":"pt","x":405.2,"y":35},{"s":"pt","x":405,"y":30},{"s":"pt","x":404.8,"y":42},{"s":"pt","x":404.6,"y":33},{"s":"pt","x":404.4,"y":24},{"s":"pt","x":404.2,"y":38},{"s":"pt","x":404,"y":30},{"s":"pt","x":403.8,"y":44},{"s":"pt","x":403.6,"y":36},{"s":"pt","x":403.4,"y":47},{"s":"pt","x":403.2,"y":40},{"s":"pt","x":403,"y":52},{"s":"pt","x":402.8,"y":58},{"s":"pt","x":402.6,"y":62},{"s":"pt","x":402.4,"y":55},{"s":"pt","x":402.2,"y":66},{"s":"pt","x":402,"y":60},{"s":"pt","x":401.8,"y":70},{"s":"pt","x":401.6,"y":63},{"s":"pt","x":401.4,"y":58},{"s":"pt","x":401.2,"y":68},{"s":"pt","x":401,"y":62},{"s":"pt","x":400.8,"y":74},{"s":"pt","x":400.6,"y":70},{"s":"pt","x":400.4,"y":66},{"s":"pt","x":400.2,"y":78},{"s":"pt","x":400,"y":72},{"s":"pt","x":399.8,"y":80},{"s":"pt","x":399.6,"y":76},{"s":"pt","x":399.4,"y":70},{"s":"pt","x":399.2,"y":62},{"s":"pt","x":399,"y":58},{"s":"pt","x":398.8,"y":48},{"s":"pt","x":398.6,"y":52},{"s":"pt","x":398.4,"y":40},{"s":"pt","x":398.2,"y":44},{"s":"pt","x":398,"y":30},{"s":"pt","x":397.8,"y":38},{"s":"pt","x":397.5,"y":26},{"s":"pt","x":397.2,"y":34},{"s":"pt","x":396.9,"y":22},{"s":"pt","x":396.6,"y":30},
{"s":"pt","x":396.2,"y":36},{"s":"pt","x":395.9,"y":15},{"s":"pt","x":395.6,"y":42},{"s":"pt","x":395.3,"y":20},{"s":"pt","x":395,"y":33},{"s":"pt","x":394.7,"y":8},{"s":"pt","x":394.4,"y":40},{"s":"pt","x":394.1,"y":24},{"s":"pt","x":393.8,"y":12},{"s":"pt","x":393.5,"y":38},{"s":"pt","x":393.2,"y":18},{"s":"pt","x":392.9,"y":44},{"s":"pt","x":392.6,"y":9},{"s":"pt","x":392.3,"y":30},{"s":"pt","x":392,"y":16},{"s":"pt","x":391.7,"y":41},{"s":"pt","x":391.4,"y":6},{"s":"pt","x":391.1,"y":26},{"s":"pt","x":390.8,"y":35},{"s":"pt","x":390.5,"y":13},{"s":"pt","x":390.2,"y":39},{"s":"pt","x":389.9,"y":22},{"s":"pt","x":389.6,"y":7},{"s":"pt","x":389.3,"y":28},
{"s":"fit","x":413.1,"y":52},{"s":"fit","x":412.9,"y":37},{"s":"fit","x":412.7,"y":30},{"s":"fit","x":412.5,"y":14},{"s":"fit","x":412.3,"y":12},{"s":"fit","x":412.1,"y":25},{"s":"fit","x":411.8,"y":29},{"s":"fit","x":411.5,"y":27},
{"s":"fit","x":411,"y":27},{"s":"fit","x":410.2,"y":28},{"s":"fit","x":409.5,"y":32.3},{"s":"fit","x":409.1,"y":39.8},{"s":"fit","x":408.8,"y":49.5},{"s":"fit","x":408.5,"y":53},{"s":"fit","x":408.2,"y":53.8},{"s":"fit","x":407.9,"y":52},{"s":"fit","x":407.6,"y":50.5},{"s":"fit","x":407.2,"y":40},{"s":"fit","x":406.8,"y":33},{"s":"fit","x":406.5,"y":30},{"s":"fit","x":405.4,"y":28},{"s":"fit","x":404.5,"y":28.5},{"s":"fit","x":403.9,"y":29},{"s":"fit","x":403.5,"y":32},{"s":"fit","x":403.2,"y":37.6},{"s":"fit","x":402.9,"y":47},{"s":"fit","x":402.6,"y":57},{"s":"fit","x":402.3,"y":61},{"s":"fit","x":402,"y":63.4},{"s":"fit","x":401.6,"y":64.5},{"s":"fit","x":401.3,"y":65.6},{"s":"fit","x":400.9,"y":67},{"s":"fit","x":400.6,"y":68.8},{"s":"fit","x":400.2,"y":71},{"s":"fit","x":399.8,"y":73.8},{"s":"fit","x":399.4,"y":73.1},{"s":"fit","x":399.1,"y":65.6},{"s":"fit","x":398.7,"y":50.5},{"s":"fit","x":398.3,"y":37.6},{"s":"fit","x":397.9,"y":32},{"s":"fit","x":397.6,"y":28},{"s":"fit","x":397,"y":26},{"s":"fit","x":396.5,"y":24.7},
{"s":"fit","x":396.2,"y":36},{"s":"fit","x":395.9,"y":15},{"s":"fit","x":395.6,"y":42},{"s":"fit","x":395.3,"y":20},{"s":"fit","x":395,"y":33},{"s":"fit","x":394.7,"y":8},{"s":"fit","x":394.4,"y":40},{"s":"fit","x":394.1,"y":24},{"s":"fit","x":393.8,"y":12},{"s":"fit","x":393.5,"y":38},{"s":"fit","x":393.2,"y":18},{"s":"fit","x":392.9,"y":44},{"s":"fit","x":392.6,"y":9},{"s":"fit","x":392.3,"y":30},{"s":"fit","x":392,"y":16},{"s":"fit","x":391.7,"y":41},{"s":"fit","x":391.4,"y":6},{"s":"fit","x":391.1,"y":26},{"s":"fit","x":390.8,"y":35},{"s":"fit","x":390.5,"y":13},{"s":"fit","x":390.2,"y":39},{"s":"fit","x":389.9,"y":22},{"s":"fit","x":389.6,"y":7},{"s":"fit","x":389.3,"y":28},
{"s":"b1","x":403.5,"y":25},{"s":"b1","x":403,"y":27},{"s":"b1","x":402.5,"y":33},{"s":"b1","x":402,"y":44},{"s":"b1","x":401.5,"y":53},{"s":"b1","x":401,"y":59},{"s":"b1","x":400.6,"y":61.3},{"s":"b1","x":400.2,"y":60},{"s":"b1","x":399.8,"y":52},{"s":"b1","x":399.5,"y":40},{"s":"b1","x":399.2,"y":30},{"s":"b1","x":398.8,"y":26},{"s":"b1","x":398,"y":25},{"s":"b1","x":396.5,"y":24.7},
{"s":"g1","x":409,"y":25},{"s":"g1","x":405,"y":25},{"s":"g1","x":401.5,"y":25},{"s":"g1","x":400.8,"y":27},{"s":"g1","x":400.3,"y":33},{"s":"g1","x":399.9,"y":48},{"s":"g1","x":399.6,"y":62},{"s":"g1","x":399.3,"y":67.7},{"s":"g1","x":399,"y":62},{"s":"g1","x":398.7,"y":48},{"s":"g1","x":398.4,"y":35},{"s":"g1","x":398,"y":28},{"s":"g1","x":397.5,"y":25.5},{"s":"g1","x":396.5,"y":24.7},
{"s":"p0","x":411.5,"y":26},{"s":"p0","x":408,"y":25.5},{"s":"p0","x":405,"y":25},{"s":"p0","x":402,"y":24.8},{"s":"p0","x":399,"y":24.7},{"s":"p0","x":396.5,"y":24.7},
{"s":"v","x":401.5,"y":78,"y2":59},{"s":"v","x":408.2,"y":67.7,"y2":53},{"s":"v","x":399.3,"y":70.5,"y2":50.5},{"s":"h","x":401.3,"x2":409.5,"y":78,"d":"r"},{"s":"h","x":408.4,"x2":412.9,"y":67.7,"d":"r"},{"s":"h","x":398.9,"x2":389.8,"y":68.2,"d":"l"},{"s":"t","x":405.4,"y":79.3,"label":"400.9 eV"},{"s":"t","x":409.7,"y":69,"label":"407.1 eV"},{"s":"t","x":394.4,"y":69.5,"label":"399.2 eV"}
]
},
"concat":[
{"data":{"values":[]},"mark":"point","width":2,"height":2,"view":{"fill":"#a0a0a0"}},{"data":{"values":[]},"mark":"point","width":40,"height":2,"view":{"fill":"#a0a0a0"}},{"data":{"values":[]},"mark":"point","width":110,"height":2,"view":{"fill":"#a0a0a0"}},{"data":{"values":[]},"mark":"point","width":69,"height":2,"view":{"fill":"#a0a0a0"}},{"data":{"values":[]},"mark":"point","width":110,"height":2,"view":{"fill":"#a0a0a0"}},{"data":{"values":[]},"mark":"point","width":25,"height":2,"view":{"fill":"#a0a0a0"}},{"data":{"values":[]},"mark":"point","width":2,"height":2,"view":{"fill":"#a0a0a0"}},{"data":{"values":[]},"mark":"point","width":42,"height":2,"view":{"fill":"#a0a0a0"}},{"data":{"values":[]},"mark":"point","width":112,"height":2,"view":{"fill":"#a0a0a0"}},{"data":{"values":[]},"mark":"point","width":64,"height":2,"view":{"fill":"#a0a0a0"}},{"data":{"values":[]},"mark":"point","width":109,"height":2,"view":{"fill":"#a0a0a0"}},{"data":{"values":[]},"mark":"point","width":16,"height":2,"view":{"fill":"#a0a0a0"}},{"data":{"values":[]},"mark":"point","width":2,"height":2,"view":{"fill":"#a0a0a0"}},

{"data":{"values":[]},"mark":"point","width":2,"height":46,"view":{"fill":"#a0a0a0"}},{"data":{"values":[]},"mark":"point","width":40,"height":46},{"data":{"values":[]},"mark":"point","width":110,"height":46},{"data":{"values":[]},"mark":"point","width":69,"height":46,"title":{"text":"SiO₂/-SH/-NH₂ + fluorescein","fontSize":13,"offset":-18,"dx":16,"anchor":"middle"}},{"data":{"values":[]},"mark":"point","width":110,"height":46},{"data":{"values":[]},"mark":"point","width":25,"height":46},{"data":{"values":[]},"mark":"point","width":2,"height":46,"view":{"fill":"#a0a0a0"}},{"data":{"values":[]},"mark":"point","width":42,"height":46},{"data":{"values":[]},"mark":"point","width":112,"height":46},{"data":{"values":[]},"mark":"point","width":64,"height":46,"title":{"text":"SiO₂/-SH/-NH₂ + Au(III)","fontSize":13,"offset":-18,"dx":-17,"anchor":"middle"}},{"data":{"values":[]},"mark":"point","width":109,"height":46},{"data":{"values":[]},"mark":"point","width":16,"height":46},{"data":{"values":[]},"mark":"point","width":2,"height":46,"view":{"fill":"#a0a0a0"}},

{"data":{"values":[]},"mark":"point","width":2,"height":152,"view":{"fill":"#a0a0a0"}},{"data":{"values":[]},"mark":"point","width":40,"height":152},
{"width":110,"height":148,"data":{"name":"p1"},"title":{"text":"S2p","anchor":"start","frame":"group","offset":3,"dx":3},
"encoding":{"x":{"field":"x","type":"quantitative","scale":{"domain":[158,174],"reverse":true,"nice":false,"zero":false},"axis":{"title":"Binding energy, eV","values":[174,172,170,168,166,164,162,160,158],"titleX":62,"titleY":24}},"y":{"field":"y","type":"quantitative","scale":{"domain":[0,100],"nice":false,"zero":false},"axis":{"title":"Intensity, a.u.","titleX":-10,"titleY":83}}},
"layer":[
{"transform":[{"filter":"datum.s=='raw'"}],"mark":{"type":"line","color":"#1a1a1a","strokeWidth":0.9,"clip":true}},
{"transform":[{"filter":"datum.s=='v'"}],"mark":{"type":"rule","color":"#555","strokeWidth":1,"strokeDash":[1.5,1.5]},"encoding":{"y2":{"field":"y2"}}},
{"transform":[{"filter":"datum.s=='h'"}],"mark":{"type":"rule","color":"#444","strokeWidth":0.9},"encoding":{"x2":{"field":"x2"}}},
{"transform":[{"filter":"datum.s=='h'"}],"mark":{"type":"point","filled":true,"color":"#333","size":14,"opacity":1},"encoding":{"shape":{"field":"d","type":"nominal","scale":{"domain":["l","r"],"range":["triangle-left","triangle-right"]},"legend":null}}},
{"transform":[{"filter":"datum.s=='t'"}],"mark":{"type":"text","fontSize":8,"baseline":"bottom","color":"#222","font":"Lato"},"encoding":{"text":{"field":"label"}}}
]},
{"data":{"values":[]},"mark":"point","width":69,"height":152},
{"width":110,"height":152,"data":{"name":"p2"},"title":{"text":"N1s","anchor":"start","frame":"group","offset":5,"dx":3.7},
"encoding":{"x":{"field":"x","type":"quantitative","scale":{"domain":[389.4,411.2],"reverse":true,"nice":false,"zero":false},"axis":{"title":"Binding energy, eV","values":[410,405,400,395,390],"titleX":60,"titleY":20}},"y":{"field":"y","type":"quantitative","scale":{"domain":[0,100],"nice":false,"zero":false},"axis":{"title":"Intensity, a.u.","titleX":-12,"titleY":83,"domainDash":[150,400]}}},
"layer":[
{"transform":[{"filter":{"field":"s","oneOf":["b0","b1","b2","g0","g1","g2","p0"]}}],"mark":{"type":"line","strokeWidth":1,"clip":true},"encoding":{"color":{"field":"s","type":"nominal","scale":{"domain":["b0","b1","b2","g0","g1","g2","p0"],"range":["#8494b4","#8494b4","#8494b4","#9bd35f","#9bd35f","#9bd35f","#eda3a3"]},"legend":null}}},
{"transform":[{"filter":"datum.s=='pt'"}],"mark":{"type":"circle","size":14,"fill":"#a8a8a8","stroke":"#2e2e2e","strokeWidth":0.7,"opacity":1,"clip":true}},
{"transform":[{"filter":"datum.s=='fit'"}],"mark":{"type":"line","color":"#ed1c24","strokeWidth":1,"clip":true}},
{"transform":[{"filter":"datum.s=='v'"}],"mark":{"type":"rule","color":"#555","strokeWidth":1,"strokeDash":[1.5,1.5]},"encoding":{"y2":{"field":"y2"}}},
{"transform":[{"filter":"datum.s=='h'"}],"mark":{"type":"rule","color":"#444","strokeWidth":0.9},"encoding":{"x2":{"field":"x2"}}},
{"transform":[{"filter":"datum.s=='h'"}],"mark":{"type":"point","filled":true,"color":"#333","size":14,"opacity":1},"encoding":{"shape":{"field":"d","type":"nominal","scale":{"domain":["l","r"],"range":["triangle-left","triangle-right"]},"legend":null}}},
{"transform":[{"filter":"datum.s=='t'"}],"mark":{"type":"text","fontSize":8,"baseline":"bottom","color":"#222","font":"Lato"},"encoding":{"text":{"field":"label"}}}
]},
{"data":{"values":[]},"mark":"point","width":25,"height":152},
{"data":{"values":[]},"mark":"point","width":2,"height":152,"view":{"fill":"#a0a0a0"}},
{"data":{"values":[]},"mark":"point","width":42,"height":152},
{"width":112,"height":148,"data":{"name":"p3"},"title":{"text":"S2p","anchor":"start","frame":"group","offset":2,"dx":4},
"encoding":{"x":{"field":"x","type":"quantitative","scale":{"domain":[158,174],"reverse":true,"nice":false,"zero":false},"axis":{"title":"Binding energy, eV","values":[174,172,170,168,166,164,162,160,158],"titleX":65,"titleY":24}},"y":{"field":"y","type":"quantitative","scale":{"domain":[0,100],"nice":false,"zero":false},"axis":{"title":"Intensity, a.u.","titleX":-11,"titleY":76}}},
"layer":[
{"transform":[{"filter":{"field":"s","oneOf":["b0","b1","b2","g0","g1","g2","p0"]}}],"mark":{"type":"line","strokeWidth":1,"clip":true},"encoding":{"color":{"field":"s","type":"nominal","scale":{"domain":["b0","b1","b2","g0","g1","g2","p0"],"range":["#8494b4","#8494b4","#8494b4","#9bd35f","#9bd35f","#9bd35f","#eda3a3"]},"legend":null}}},
{"transform":[{"filter":"datum.s=='pt'"}],"mark":{"type":"circle","size":14,"fill":"#a8a8a8","stroke":"#2e2e2e","strokeWidth":0.7,"opacity":1,"clip":true}},
{"transform":[{"filter":"datum.s=='fit'"}],"mark":{"type":"line","color":"#ed1c24","strokeWidth":1,"clip":true}},
{"transform":[{"filter":"datum.s=='v'"}],"mark":{"type":"rule","color":"#555","strokeWidth":1,"strokeDash":[1.5,1.5]},"encoding":{"y2":{"field":"y2"}}},
{"transform":[{"filter":"datum.s=='h'"}],"mark":{"type":"rule","color":"#444","strokeWidth":0.9},"encoding":{"x2":{"field":"x2"}}},
{"transform":[{"filter":"datum.s=='h'"}],"mark":{"type":"point","filled":true,"color":"#333","size":14,"opacity":1},"encoding":{"shape":{"field":"d","type":"nominal","scale":{"domain":["l","r"],"range":["triangle-left","triangle-right"]},"legend":null}}},
{"transform":[{"filter":"datum.s=='t'"}],"mark":{"type":"text","fontSize":8,"baseline":"bottom","color":"#222","font":"Lato"},"encoding":{"text":{"field":"label"}}}
]},
{"data":{"values":[]},"mark":"point","width":64,"height":152},
{"width":109,"height":151,"data":{"name":"p4"},"title":{"text":"N1s","anchor":"start","frame":"group","offset":2,"dx":3.7},
"encoding":{"x":{"field":"x","type":"quantitative","scale":{"domain":[389.6,412.1],"reverse":true,"nice":false,"zero":false},"axis":{"title":"Binding energy, eV","values":[410,405,400,395,390],"titleX":63,"titleY":21}},"y":{"field":"y","type":"quantitative","scale":{"domain":[0,100],"nice":false,"zero":false},"axis":{"title":"Intensity, a.u.","titleX":-12,"titleY":69,"domainDash":[150,400]}}},
"layer":[
{"transform":[{"filter":{"field":"s","oneOf":["b0","b1","b2","g0","g1","g2","p0"]}}],"mark":{"type":"line","strokeWidth":1,"clip":true},"encoding":{"color":{"field":"s","type":"nominal","scale":{"domain":["b0","b1","b2","g0","g1","g2","p0"],"range":["#8494b4","#8494b4","#8494b4","#9bd35f","#9bd35f","#9bd35f","#eda3a3"]},"legend":null}}},
{"transform":[{"filter":"datum.s=='pt'"}],"mark":{"type":"circle","size":14,"fill":"#a8a8a8","stroke":"#2e2e2e","strokeWidth":0.7,"opacity":1,"clip":true}},
{"transform":[{"filter":"datum.s=='fit'"}],"mark":{"type":"line","color":"#ed1c24","strokeWidth":1,"clip":true}},
{"transform":[{"filter":"datum.s=='v'"}],"mark":{"type":"rule","color":"#555","strokeWidth":1,"strokeDash":[1.5,1.5]},"encoding":{"y2":{"field":"y2"}}},
{"transform":[{"filter":"datum.s=='h'"}],"mark":{"type":"rule","color":"#444","strokeWidth":0.9},"encoding":{"x2":{"field":"x2"}}},
{"transform":[{"filter":"datum.s=='h'"}],"mark":{"type":"point","filled":true,"color":"#333","size":14,"opacity":1},"encoding":{"shape":{"field":"d","type":"nominal","scale":{"domain":["l","r"],"range":["triangle-left","triangle-right"]},"legend":null}}},
{"transform":[{"filter":"datum.s=='t'"}],"mark":{"type":"text","fontSize":8,"baseline":"bottom","color":"#222","font":"Lato"},"encoding":{"text":{"field":"label"}}}
]},
{"data":{"values":[]},"mark":"point","width":16,"height":152},
{"data":{"values":[]},"mark":"point","width":2,"height":152,"view":{"fill":"#a0a0a0"}},

{"data":{"values":[]},"mark":"point","width":2,"height":40,"view":{"fill":"#a0a0a0"}},{"data":{"values":[]},"mark":"point","width":40,"height":40},{"data":{"values":[]},"mark":"point","width":110,"height":40},{"data":{"values":[]},"mark":"point","width":69,"height":40},{"data":{"values":[]},"mark":"point","width":110,"height":40},{"data":{"values":[]},"mark":"point","width":25,"height":40},{"data":{"values":[]},"mark":"point","width":2,"height":40,"view":{"fill":"#a0a0a0"}},{"data":{"values":[]},"mark":"point","width":42,"height":40},{"data":{"values":[]},"mark":"point","width":112,"height":40},{"data":{"values":[]},"mark":"point","width":64,"height":40},{"data":{"values":[]},"mark":"point","width":109,"height":40},{"data":{"values":[]},"mark":"point","width":16,"height":40},{"data":{"values":[]},"mark":"point","width":2,"height":40,"view":{"fill":"#a0a0a0"}},

{"data":{"values":[]},"mark":"point","width":2,"height":2,"view":{"fill":"#a0a0a0"}},{"data":{"values":[]},"mark":"point","width":40,"height":2,"view":{"fill":"#a0a0a0"}},{"data":{"values":[]},"mark":"point","width":110,"height":2,"view":{"fill":"#a0a0a0"}},{"data":{"values":[]},"mark":"point","width":69,"height":2,"view":{"fill":"#a0a0a0"}},{"data":{"values":[]},"mark":"point","width":110,"height":2,"view":{"fill":"#a0a0a0"}},{"data":{"values":[]},"mark":"point","width":25,"height":2,"view":{"fill":"#a0a0a0"}},{"data":{"values":[]},"mark":"point","width":2,"height":2,"view":{"fill":"#a0a0a0"}},{"data":{"values":[]},"mark":"point","width":42,"height":2,"view":{"fill":"#a0a0a0"}},{"data":{"values":[]},"mark":"point","width":112,"height":2,"view":{"fill":"#a0a0a0"}},{"data":{"values":[]},"mark":"point","width":64,"height":2,"view":{"fill":"#a0a0a0"}},{"data":{"values":[]},"mark":"point","width":109,"height":2,"view":{"fill":"#a0a0a0"}},{"data":{"values":[]},"mark":"point","width":16,"height":2,"view":{"fill":"#a0a0a0"}},{"data":{"values":[]},"mark":"point","width":2,"height":2,"view":{"fill":"#a0a0a0"}},

{"data":{"values":[]},"mark":"point","width":2,"height":49,"view":{"fill":"#a0a0a0"}},{"data":{"values":[]},"mark":"point","width":40,"height":49},{"data":{"values":[]},"mark":"point","width":110,"height":49},{"data":{"values":[]},"mark":"point","width":69,"height":49,"title":{"text":"SiO₂/-SH/-NH₂ + Ag(I)","fontSize":13,"offset":-20,"dx":0.5,"anchor":"middle"}},{"data":{"values":[]},"mark":"point","width":110,"height":49},{"data":{"values":[]},"mark":"point","width":25,"height":49},{"data":{"values":[]},"mark":"point","width":2,"height":49,"view":{"fill":"#a0a0a0"}},{"data":{"values":[]},"mark":"point","width":42,"height":49},{"data":{"values":[]},"mark":"point","width":112,"height":49},{"data":{"values":[]},"mark":"point","width":64,"height":49,"title":{"text":"SiO₂/-SH/-NH₂ + Eu(III)","fontSize":13,"offset":-20,"dx":6,"anchor":"middle"}},{"data":{"values":[]},"mark":"point","width":109,"height":49},{"data":{"values":[]},"mark":"point","width":16,"height":49},{"data":{"values":[]},"mark":"point","width":2,"height":49,"view":{"fill":"#a0a0a0"}},

{"data":{"values":[]},"mark":"point","width":2,"height":155,"view":{"fill":"#a0a0a0"}},{"data":{"values":[]},"mark":"point","width":40,"height":155},
{"width":110,"height":150,"data":{"name":"p5"},"title":{"text":"S2p","anchor":"start","frame":"group","offset":0,"dx":2},
"encoding":{"x":{"field":"x","type":"quantitative","scale":{"domain":[157.1,175.56],"reverse":true,"nice":false,"zero":false},"axis":{"title":"Binding energy, eV","values":[175,170,165,160],"titleX":59,"titleY":24}},"y":{"field":"y","type":"quantitative","scale":{"domain":[0,100],"nice":false,"zero":false},"axis":{"title":"Intensity, a.u.","titleX":-10,"titleY":73,"domainDash":[136,400]}}},
"layer":[
{"transform":[{"filter":{"field":"s","oneOf":["b0","b1","b2","g0","g1","g2","p0"]}}],"mark":{"type":"line","strokeWidth":1,"clip":true},"encoding":{"color":{"field":"s","type":"nominal","scale":{"domain":["b0","b1","b2","g0","g1","g2","p0"],"range":["#8494b4","#8494b4","#8494b4","#9bd35f","#9bd35f","#9bd35f","#eda3a3"]},"legend":null}}},
{"transform":[{"filter":"datum.s=='pt'"}],"mark":{"type":"circle","size":14,"fill":"#a8a8a8","stroke":"#2e2e2e","strokeWidth":0.7,"opacity":1,"clip":true}},
{"transform":[{"filter":"datum.s=='fit'"}],"mark":{"type":"line","color":"#ed1c24","strokeWidth":1,"clip":true}},
{"transform":[{"filter":"datum.s=='v'"}],"mark":{"type":"rule","color":"#555","strokeWidth":1,"strokeDash":[1.5,1.5]},"encoding":{"y2":{"field":"y2"}}},
{"transform":[{"filter":"datum.s=='h'"}],"mark":{"type":"rule","color":"#444","strokeWidth":0.9},"encoding":{"x2":{"field":"x2"}}},
{"transform":[{"filter":"datum.s=='h'"}],"mark":{"type":"point","filled":true,"color":"#333","size":14,"opacity":1},"encoding":{"shape":{"field":"d","type":"nominal","scale":{"domain":["l","r"],"range":["triangle-left","triangle-right"]},"legend":null}}},
{"transform":[{"filter":"datum.s=='t'"}],"mark":{"type":"text","fontSize":8,"baseline":"bottom","color":"#222","font":"Lato"},"encoding":{"text":{"field":"label"}}}
]},
{"data":{"values":[]},"mark":"point","width":69,"height":155},
{"width":110,"height":153,"data":{"name":"p6"},"title":{"text":"N1s","anchor":"start","frame":"group","offset":6,"dx":4.7},
"encoding":{"x":{"field":"x","type":"quantitative","scale":{"domain":[389.4,411.2],"reverse":true,"nice":false,"zero":false},"axis":{"title":"Binding energy, eV","values":[410,405,400,395,390],"titleX":61,"titleY":21}},"y":{"field":"y","type":"quantitative","scale":{"domain":[0,100],"nice":false,"zero":false},"axis":{"title":"Intensity, a.u.","titleX":-14,"titleY":81,"domainDash":[152,400]}}},
"layer":[
{"transform":[{"filter":{"field":"s","oneOf":["b0","b1","b2","g0","g1","g2","p0"]}}],"mark":{"type":"line","strokeWidth":1,"clip":true},"encoding":{"color":{"field":"s","type":"nominal","scale":{"domain":["b0","b1","b2","g0","g1","g2","p0"],"range":["#8494b4","#8494b4","#8494b4","#9bd35f","#9bd35f","#9bd35f","#eda3a3"]},"legend":null}}},
{"transform":[{"filter":"datum.s=='pt'"}],"mark":{"type":"circle","size":14,"fill":"#a8a8a8","stroke":"#2e2e2e","strokeWidth":0.7,"opacity":1,"clip":true}},
{"transform":[{"filter":"datum.s=='fit'"}],"mark":{"type":"line","color":"#ed1c24","strokeWidth":1,"clip":true}},
{"transform":[{"filter":"datum.s=='v'"}],"mark":{"type":"rule","color":"#555","strokeWidth":1,"strokeDash":[1.5,1.5]},"encoding":{"y2":{"field":"y2"}}},
{"transform":[{"filter":"datum.s=='h'"}],"mark":{"type":"rule","color":"#444","strokeWidth":0.9},"encoding":{"x2":{"field":"x2"}}},
{"transform":[{"filter":"datum.s=='h'"}],"mark":{"type":"point","filled":true,"color":"#333","size":14,"opacity":1},"encoding":{"shape":{"field":"d","type":"nominal","scale":{"domain":["l","r"],"range":["triangle-left","triangle-right"]},"legend":null}}},
{"transform":[{"filter":"datum.s=='t'"}],"mark":{"type":"text","fontSize":8,"baseline":"bottom","color":"#222","font":"Lato"},"encoding":{"text":{"field":"label"}}}
]},
{"data":{"values":[]},"mark":"point","width":25,"height":155},
{"data":{"values":[]},"mark":"point","width":2,"height":155,"view":{"fill":"#a0a0a0"}},
{"data":{"values":[]},"mark":"point","width":42,"height":155},
{"width":112,"height":150,"data":{"name":"p7"},"title":{"text":"S2p","anchor":"start","frame":"group","offset":4,"dx":4},
"encoding":{"x":{"field":"x","type":"quantitative","scale":{"domain":[158,174.29],"reverse":true,"nice":false,"zero":false},"axis":{"title":"Binding energy, eV","values":[174,172,170,168,166,164,162,160,158],"titleX":62,"titleY":23}},"y":{"field":"y","type":"quantitative","scale":{"domain":[0,100],"nice":false,"zero":false},"axis":{"title":"Intensity, a.u.","titleX":-8,"titleY":68}}},
"layer":[
{"transform":[{"filter":"datum.s=='raw'"}],"mark":{"type":"line","color":"#1a1a1a","strokeWidth":0.9,"clip":true}},
{"transform":[{"filter":"datum.s=='v'"}],"mark":{"type":"rule","color":"#555","strokeWidth":1,"strokeDash":[1.5,1.5]},"encoding":{"y2":{"field":"y2"}}},
{"transform":[{"filter":"datum.s=='h'"}],"mark":{"type":"rule","color":"#444","strokeWidth":0.9},"encoding":{"x2":{"field":"x2"}}},
{"transform":[{"filter":"datum.s=='h'"}],"mark":{"type":"point","filled":true,"color":"#333","size":14,"opacity":1},"encoding":{"shape":{"field":"d","type":"nominal","scale":{"domain":["l","r"],"range":["triangle-left","triangle-right"]},"legend":null}}},
{"transform":[{"filter":"datum.s=='t'"}],"mark":{"type":"text","fontSize":8,"baseline":"bottom","color":"#222","font":"Lato"},"encoding":{"text":{"field":"label"}}}
]},
{"data":{"values":[]},"mark":"point","width":64,"height":155},
{"width":109,"height":155,"data":{"name":"p8"},"title":{"text":"N1s","anchor":"start","frame":"group","offset":0.5,"dx":4.7},
"encoding":{"x":{"field":"x","type":"quantitative","scale":{"domain":[388.85,413.2],"reverse":true,"nice":false,"zero":false},"axis":{"title":"Binding energy, eV","values":[413,406,399,392],"titleX":63,"titleY":19}},"y":{"field":"y","type":"quantitative","scale":{"domain":[0,100],"nice":false,"zero":false},"axis":{"title":"Intensity, a.u.","titleX":-10,"titleY":65}}},
"layer":[
{"transform":[{"filter":{"field":"s","oneOf":["b0","b1","b2","g0","g1","g2","p0"]}}],"mark":{"type":"line","strokeWidth":1,"clip":true},"encoding":{"color":{"field":"s","type":"nominal","scale":{"domain":["b0","b1","b2","g0","g1","g2","p0"],"range":["#8494b4","#8494b4","#8494b4","#9bd35f","#9bd35f","#9bd35f","#eda3a3"]},"legend":null}}},
{"transform":[{"filter":"datum.s=='pt'"}],"mark":{"type":"circle","size":14,"fill":"#a8a8a8","stroke":"#2e2e2e","strokeWidth":0.7,"opacity":1,"clip":true}},
{"transform":[{"filter":"datum.s=='fit'"}],"mark":{"type":"line","color":"#ed1c24","strokeWidth":1,"clip":true}},
{"transform":[{"filter":"datum.s=='v'"}],"mark":{"type":"rule","color":"#555","strokeWidth":1,"strokeDash":[1.5,1.5]},"encoding":{"y2":{"field":"y2"}}},
{"transform":[{"filter":"datum.s=='h'"}],"mark":{"type":"rule","color":"#444","strokeWidth":0.9},"encoding":{"x2":{"field":"x2"}}},
{"transform":[{"filter":"datum.s=='h'"}],"mark":{"type":"point","filled":true,"color":"#333","size":14,"opacity":1},"encoding":{"shape":{"field":"d","type":"nominal","scale":{"domain":["l","r"],"range":["triangle-left","triangle-right"]},"legend":null}}},
{"transform":[{"filter":"datum.s=='t'"}],"mark":{"type":"text","fontSize":8,"baseline":"bottom","color":"#222","font":"Lato"},"encoding":{"text":{"field":"label"}}}
]},
{"data":{"values":[]},"mark":"point","width":16,"height":155},
{"data":{"values":[]},"mark":"point","width":2,"height":155,"view":{"fill":"#a0a0a0"}},

{"data":{"values":[]},"mark":"point","width":2,"height":44,"view":{"fill":"#a0a0a0"}},{"data":{"values":[]},"mark":"point","width":40,"height":44},{"data":{"values":[]},"mark":"point","width":110,"height":44},{"data":{"values":[]},"mark":"point","width":69,"height":44},{"data":{"values":[]},"mark":"point","width":110,"height":44},{"data":{"values":[]},"mark":"point","width":25,"height":44},{"data":{"values":[]},"mark":"point","width":2,"height":44,"view":{"fill":"#a0a0a0"}},{"data":{"values":[]},"mark":"point","width":42,"height":44},{"data":{"values":[]},"mark":"point","width":112,"height":44},{"data":{"values":[]},"mark":"point","width":64,"height":44},{"data":{"values":[]},"mark":"point","width":109,"height":44},{"data":{"values":[]},"mark":"point","width":16,"height":44},{"data":{"values":[]},"mark":"point","width":2,"height":44,"view":{"fill":"#a0a0a0"}},

{"data":{"values":[]},"mark":"point","width":2,"height":2,"view":{"fill":"#a0a0a0"}},{"data":{"values":[]},"mark":"point","width":40,"height":2,"view":{"fill":"#a0a0a0"}},{"data":{"values":[]},"mark":"point","width":110,"height":2,"view":{"fill":"#a0a0a0"}},{"data":{"values":[]},"mark":"point","width":69,"height":2,"view":{"fill":"#a0a0a0"}},{"data":{"values":[]},"mark":"point","width":110,"height":2,"view":{"fill":"#a0a0a0"}},{"data":{"values":[]},"mark":"point","width":25,"height":2,"view":{"fill":"#a0a0a0"}},{"data":{"values":[]},"mark":"point","width":2,"height":2,"view":{"fill":"#a0a0a0"}},{"data":{"values":[]},"mark":"point","width":42,"height":2,"view":{"fill":"#a0a0a0"}},{"data":{"values":[]},"mark":"point","width":112,"height":2,"view":{"fill":"#a0a0a0"}},{"data":{"values":[]},"mark":"point","width":64,"height":2,"view":{"fill":"#a0a0a0"}},{"data":{"values":[]},"mark":"point","width":109,"height":2,"view":{"fill":"#a0a0a0"}},{"data":{"values":[]},"mark":"point","width":16,"height":2,"view":{"fill":"#a0a0a0"}},{"data":{"values":[]},"mark":"point","width":2,"height":2,"view":{"fill":"#a0a0a0"}}
]
}
